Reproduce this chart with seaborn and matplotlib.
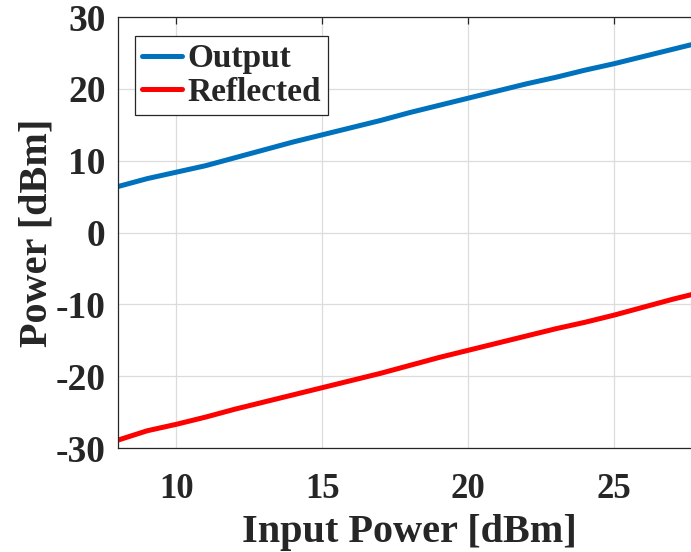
import numpy as np
import pandas as pd
import matplotlib
matplotlib.use("Agg")
import matplotlib.pyplot as plt
import seaborn as sns

# Input drive levels (dBm)
input_power = [8, 9, 10, 11, 12, 13, 14, 15, 16, 17, 18, 19, 20, 21, 22, 23, 24, 25, 26, 27, 28]
# Measured output power (dBm)
output_power = [6.4, 7.5, 8.4, 9.3, 10.4, 11.5, 12.6, 13.6, 14.6, 15.6, 16.7, 17.7, 18.7,
                19.7, 20.7, 21.6, 22.6, 23.5, 24.5, 25.5, 26.5]
# Reflected power (dBm)
reflected_power = [-28.9, -27.6, -26.7, -25.7, -24.6, -23.6, -22.6, -21.6, -20.6, -19.6, -18.5,
                   -17.4, -16.4, -15.4, -14.4, -13.4, -12.5, -11.5, -10.4, -9.3, -8.3]

series_names = ["Output", "Reflected"]
series_colors = ["#0072BD", "#FF0000"]

df = pd.DataFrame({
    "Input Power [dBm]": input_power * 2,
    "Power [dBm]": output_power + reflected_power,
    "Signal": [series_names[0]] * len(input_power) + [series_names[1]] * len(input_power),
})

sns.set_style("white")
plt.rcParams["font.family"] = ["Liberation Serif", "DejaVu Serif"]
plt.rcParams["font.weight"] = "bold"
plt.rcParams["axes.unicode_minus"] = False

fig = plt.figure(figsize=(6.91, 5.52), dpi=100)
ax = fig.add_axes([0.1708, 0.1884, 0.8446, 0.7808])

sns.lineplot(data=df, x="Input Power [dBm]", y="Power [dBm]", hue="Signal",
             palette=dict(zip(series_names, series_colors)), linewidth=3.6, ax=ax)

ax.set_xlim(8, 28)
ax.set_ylim(-30, 30)
ax.set_xticks([10, 15, 20, 25])
ax.set_yticks([-30, -20, -10, 0, 10, 20, 30])
ax.grid(True, color="#dcdcdc", linewidth=0.9)
ax.set_axisbelow(True)

for side in ["left", "bottom", "top", "right"]:
    ax.spines[side].set_color("#262626")
    ax.spines[side].set_linewidth(0.9)

ax.tick_params(axis="both", direction="in", length=5, width=0.9, color="#262626",
               top=True, right=True)
ax.tick_params(axis="x", labelsize=25, pad=18)
ax.tick_params(axis="y", labelsize=27, pad=9)
for lbl in ax.get_xticklabels() + ax.get_yticklabels():
    lbl.set_fontweight("bold")
    lbl.set_color("#262626")

ax.set_xlabel("Input Power [dBm]", fontsize=29, fontweight="bold", color="#262626", labelpad=6)
ax.set_ylabel("Power [dBm]", fontsize=29, fontweight="bold", color="#262626", labelpad=0)

leg = ax.legend(loc="upper left", bbox_to_anchor=(0.029, 0.956), fontsize=24,
                frameon=True, fancybox=False, edgecolor="#262626", framealpha=1,
                handlelength=1.2, handletextpad=0.15, borderpad=0.22, labelspacing=0.08,
                borderaxespad=0)
leg.get_frame().set_linewidth(0.9)
for t in leg.get_texts():
    t.set_fontweight("bold")

fig.savefig("out.png", dpi=100)
